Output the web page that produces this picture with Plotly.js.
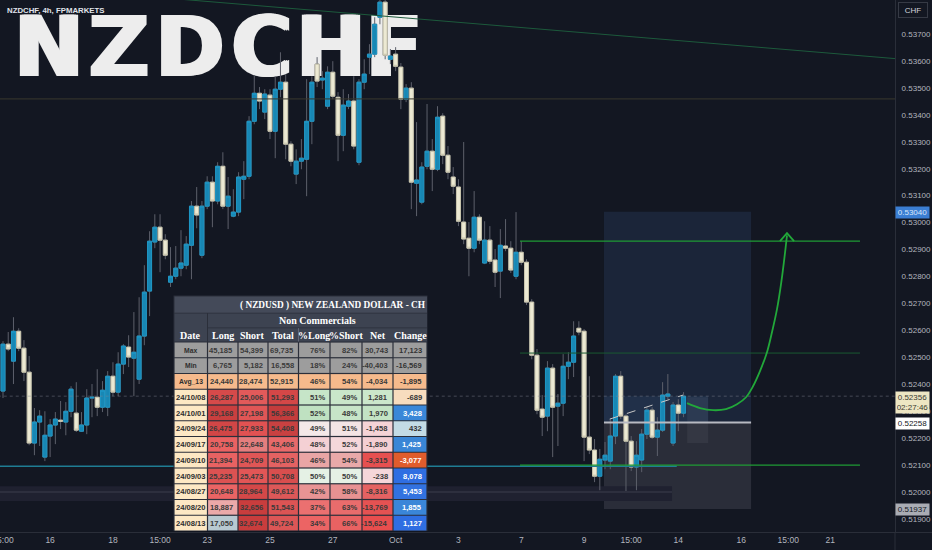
<!DOCTYPE html>
<html><head><meta charset="utf-8">
<script src="https://cdn.plot.ly/plotly-3.0.1.min.js"></script>
<style>html,body{margin:0;padding:0;background:#131722;}#chart{width:932px;height:550px;}</style>
</head><body><div id="chart"></div>
<script>
// ---------------- DATA ----------------
const candleOpen = [0.52375,0.52549,0.52486,0.52597,0.52534,0.52445,0.52182,0.52260,0.52130,0.52208,0.52249,0.52267,0.52260,0.52300,0.52293,0.52226,0.52249,0.52349,0.52352,0.52315,0.52315,0.52430,0.52371,0.52475,0.52538,0.52497,0.52419,0.52579,0.52746,0.52928,0.52983,0.52935,0.52779,0.52801,0.52831,0.52842,0.52916,0.53061,0.52879,0.53061,0.53150,0.53080,0.53209,0.53061,0.53024,0.53039,0.53161,0.53172,0.53376,0.53480,0.53410,0.53473,0.53339,0.53495,0.53521,0.53291,0.53180,0.53228,0.53235,0.53376,0.53588,0.53529,0.53432,0.53558,0.53465,0.53324,0.53432,0.53451,0.53224,0.53521,0.53614,0.53625,0.53762,0.53818,0.53606,0.53625,0.53577,0.53458,0.53499,0.53146,0.53076,0.53209,0.53265,0.53198,0.53395,0.53250,0.53169,0.53132,0.53002,0.52942,0.52905,0.53020,0.52850,0.52935,0.52861,0.52820,0.52913,0.52905,0.52801,0.52890,0.52853,0.52705,0.52508,0.52308,0.52282,0.52460,0.52319,0.52330,0.52467,0.52482,0.52608,0.52597,0.52204,0.52156,0.52059,0.52119,0.52115,0.52208,0.52430,0.52282,0.52189,0.52093,0.52119,0.52215,0.52304,0.52204,0.52230,0.52356,0.52182,0.52323,0.52293];
const candleHigh = [0.52560,0.52594,0.52649,0.52608,0.52564,0.52505,0.52312,0.52304,0.52300,0.52271,0.52297,0.52338,0.52334,0.52393,0.52408,0.52297,0.52382,0.52401,0.52456,0.52412,0.52449,0.52482,0.52519,0.52549,0.52582,0.52668,0.52723,0.52842,0.52968,0.53031,0.53031,0.52957,0.52909,0.52913,0.52972,0.52950,0.53080,0.53132,0.53080,0.53172,0.53172,0.53224,0.53261,0.53169,0.53124,0.53187,0.53228,0.53395,0.53547,0.53503,0.53495,0.53495,0.53543,0.53632,0.53551,0.53302,0.53272,0.53310,0.53532,0.53543,0.53614,0.53562,0.53580,0.53599,0.53484,0.53495,0.53477,0.53543,0.53532,0.53606,0.53662,0.53762,0.53829,0.53826,0.53644,0.53651,0.53592,0.53514,0.53521,0.53373,0.53224,0.53440,0.53310,0.53432,0.53406,0.53284,0.53206,0.53161,0.53299,0.53002,0.53117,0.53031,0.53005,0.52987,0.52902,0.52976,0.53013,0.52931,0.53039,0.52931,0.52864,0.52716,0.52531,0.52360,0.52486,0.52475,0.52364,0.52512,0.52519,0.52634,0.52634,0.52605,0.52430,0.52197,0.52160,0.52186,0.52271,0.52438,0.52449,0.52289,0.52208,0.52189,0.52234,0.52315,0.52315,0.52278,0.52408,0.52438,0.52334,0.52345,0.52371];
const candleLow = [0.52349,0.52523,0.52401,0.52523,0.52412,0.52174,0.52137,0.52171,0.52115,0.52130,0.52178,0.52234,0.52211,0.52278,0.52223,0.52223,0.52215,0.52278,0.52282,0.52297,0.52282,0.52356,0.52356,0.52438,0.52464,0.52356,0.52401,0.52545,0.52653,0.52905,0.52816,0.52864,0.52761,0.52790,0.52801,0.52827,0.52790,0.52979,0.52868,0.53050,0.52983,0.53068,0.53050,0.52976,0.53020,0.53024,0.53087,0.53161,0.53365,0.53421,0.53384,0.53310,0.53239,0.53465,0.53235,0.53209,0.53143,0.53198,0.53098,0.53291,0.53503,0.53495,0.53421,0.53458,0.53228,0.53265,0.53421,0.53272,0.53213,0.53495,0.53551,0.53614,0.53736,0.53606,0.53588,0.53562,0.53421,0.53447,0.53050,0.53024,0.53068,0.53198,0.53117,0.53191,0.53217,0.53161,0.53106,0.52987,0.52920,0.52801,0.52890,0.52920,0.52846,0.52846,0.52761,0.52720,0.52894,0.52813,0.52790,0.52842,0.52694,0.52493,0.52289,0.52208,0.52226,0.52130,0.52171,0.52282,0.52419,0.52427,0.52582,0.52115,0.52141,0.52037,0.52007,0.52085,0.52085,0.52178,0.52271,0.52000,0.52078,0.52007,0.52074,0.52197,0.52197,0.52134,0.52223,0.52345,0.52171,0.52226,0.52278];
const candleClose = [0.52549,0.52531,0.52597,0.52534,0.52445,0.52182,0.52260,0.52282,0.52211,0.52249,0.52271,0.52263,0.52300,0.52382,0.52230,0.52249,0.52349,0.52352,0.52315,0.52378,0.52430,0.52371,0.52475,0.52542,0.52501,0.52519,0.52579,0.52742,0.52931,0.52983,0.52935,0.52879,0.52801,0.52831,0.52850,0.52920,0.53061,0.53028,0.53061,0.53150,0.53080,0.53209,0.53061,0.53098,0.53039,0.53169,0.53172,0.53376,0.53480,0.53451,0.53477,0.53339,0.53495,0.53521,0.53291,0.53228,0.53228,0.53239,0.53376,0.53521,0.53525,0.53536,0.53558,0.53469,0.53324,0.53436,0.53451,0.53284,0.53521,0.53551,0.53625,0.53736,0.53818,0.53621,0.53618,0.53580,0.53458,0.53499,0.53150,0.53158,0.53206,0.53265,0.53198,0.53391,0.53250,0.53187,0.53135,0.53005,0.52939,0.52905,0.53020,0.52935,0.52935,0.52857,0.52816,0.52916,0.52905,0.52824,0.52890,0.52853,0.52705,0.52508,0.52304,0.52278,0.52460,0.52315,0.52330,0.52467,0.52482,0.52579,0.52594,0.52204,0.52156,0.52059,0.52122,0.52137,0.52208,0.52430,0.52282,0.52189,0.52093,0.52137,0.52215,0.52304,0.52204,0.52230,0.52360,0.52364,0.52323,0.52293,0.52356];

const timeTickPos  = [0, 9, 21, 30, 39, 51, 63, 75, 87, 99, 111, 120, 129, 141, 150, 158];
const timeTickText = ['15:00','16','18','15:00','23','25','27','Oct','3','7','9','15:00','14','16','15:00','21'];
const priceTicks = [0.519,0.520,0.521,0.522,0.523,0.524,0.525,0.526,0.527,0.528,0.529,0.530,0.531,0.532,0.533,0.534,0.535,0.536,0.537];

const chartTitle = 'NZDCHF, 4h, FPMARKETS';
const watermarkText = 'NZDCHF';
const currencyLabel = 'CHF';
const lastPrice = 0.52356;
const countdown = '02:27:46';
const targetPrice = 0.53040;
const entryPrice = 0.52258;
const stopPrice = 0.51937;

// drawings (index, price)
const trendX = [33.2, 172], trendY = [0.53830, 0.53606];
const resistanceLevel = 0.53459;
const supportLevel = 0.52096, supportEnd = 128.7;
const zoneStart = 98.76, zoneEnd = 163.7;
const zoneLevels = [0.52931, 0.52516, 0.52100];
const positionStart = 114.8, positionEnd = 142.9, progressEnd = 134.7;
const boxX = [130.7, 134.7], boxY = [0.52182, 0.52352];
const bandEnd = 127.8, bandY = [0.51967, 0.52022], bandMid = 0.52000;
const dashX = [115.9, 129.9], dashY = [0.52271, 0.52360];
const arrowX = [130.66,133.14,135.63,138.11,140.21,141.93,143.27,144.60,145.94,146.90,147.85,148.62,149.19,149.76];
const arrowY = [0.52330,0.52312,0.52304,0.52308,0.52326,0.52352,0.52393,0.52449,0.52519,0.52594,0.52679,0.52772,0.52857,0.52953];
const arrowHeadX = [148.42, 149.76, 151.10], arrowHeadY = [0.52931, 0.52961, 0.52931];

// COT table
const tableTitle = '( NZDUSD ) NEW ZEALAND DOLLAR - CH';
const tableGroup = 'Non Commercials';
const tableHeaders = ['Date','Long','Short','Total','%Long','%Short','Net','Change'];
const rowLabels = ['Max','Min','Avg_13','24/10/08','24/10/01','24/09/24','24/09/17','24/09/10','24/09/03','24/08/27','24/08/20','24/08/13'];
const longVals  = [45185, 6765, 24440, 26287, 29168, 26475, 20758, 21394, 25235, 20648, 18887, 17050];
const shortVals = [54399, 5182, 28474, 25006, 27198, 27933, 22648, 24709, 25473, 28964, 32656, 32674];
const totalVals = [69735, 16558, 52915, 51293, 56366, 54408, 43406, 46103, 50708, 49612, 51543, 49724];
const pctLong   = [76, 18, 46, 51, 52, 49, 48, 46, 50, 42, 37, 34];
const pctShort  = [82, 24, 54, 49, 48, 51, 52, 54, 50, 58, 63, 66];
const netVals   = [30743, -40403, -4034, 1281, 1970, -1458, -1890, -3315, -238, -8316, -13769, -15624];
const changeVals= [17123, -16569, -1895, -689, 3428, 432, 1425, -3077, 8078, 5453, 1855, 1127];

// table cell styles
const cellColors = [
 ['#9d9d9d','#9d9d9d','#9d9d9d','#9d9d9d','#9d9d9d','#9d9d9d','#9d9d9d','#9d9d9d'],
 ['#9d9d9d','#9d9d9d','#9d9d9d','#9d9d9d','#9d9d9d','#9d9d9d','#9d9d9d','#9d9d9d'],
 ['#f6ba8c','#f6ba8c','#f6ba8c','#f6ba8c','#f6ba8c','#f6ba8c','#f6ba8c','#f6ba8c'],
 ['#fde8c4','#d64a4a','#e25a5a','#d44747','#c6e5c8','#c9e6ca','#cbe7cb','#f7dcbe'],
 ['#fde8c4','#c93f3f','#e05656','#c43c3c','#bfe1c1','#c7e5c8','#c3e3c4','#3a87d8'],
 ['#fde8c4','#d24646','#e15252','#c94141','#f4e8e8','#f3e4e4','#f5d3d6','#c3dbe5'],
 ['#fde8c4','#ea6262','#e47e7e','#e86a6a','#f4d0d4','#f5d7da','#f4ced2','#3a86d6'],
 ['#fde8c4','#e86262','#e05656','#e46262','#e9a5a5','#e9a9a9','#e65050','#e05c2c'],
 ['#fde8c4','#dc5252','#e25656','#d84e4e','#e5f1e5','#e5f1e5','#f5d6d9','#2f6ee2'],
 ['#fde8c4','#ea6464','#d44848','#dd5858','#e89494','#e79292','#e56262','#3272e0'],
 ['#fde8c4','#eba9a9','#c93d3d','#dc5454','#eb7070','#e96c6c','#e55252','#3a86d8'],
 ['#fde8c4','#b8c9d1','#c93d3d','#dc5656','#ec6464','#e96262','#e84e4e','#2f6ee2']
];
const changeTextColors = ['#333','#333','#333','#333','#fff','#333','#fff','#fff','#fff','#fff','#fff','#fff'];

// ---------------- BUILD ----------------
const SANS = "'Liberation Sans',Arial,sans-serif";
const SERIF = "'Liberation Serif','DejaVu Serif',serif";
const PW = 895, PH = 532;
const PX = x => x / PW;
const PY = y => 1 - y / PH;

const xIdx = candleOpen.map((_, i) => i);
const bodyHigh = candleOpen.map((o, i) => Math.max(o, candleClose[i]));
const bodyLow = candleOpen.map((o, i) => Math.min(o, candleClose[i]));

const data = [];
// watermark letters (layout positions in pixels)
const letterCenters = [49, 119, 190, 262, 331, 394];
data.push({type:'scatter', mode:'text', x:letterCenters.map(PX), y:letterCenters.map(() => PY(55.5)),
  text:watermarkText.split(''),
  textposition:'middle center', cliponaxis:false, hoverinfo:'skip', showlegend:false,
  textfont:{family:"'DejaVu Sans',sans-serif", size:83, color:'#ededed', weight:'bold',
    shadow:'2px 0 0 #ededed, -2px 0 0 #ededed'}});
data.push({type:'candlestick', x:xIdx, open:candleOpen, high:candleHigh, low:candleLow, close:candleClose,
  xaxis:'x2', yaxis:'y2', whiskerwidth:0, hoverinfo:'skip', showlegend:false,
  increasing:{line:{color:'#5d606b', width:1}, fillcolor:'rgba(0,0,0,0)'},
  decreasing:{line:{color:'#5d606b', width:1}, fillcolor:'rgba(0,0,0,0)'}});
data.push({type:'candlestick', x:xIdx, open:candleOpen, high:bodyHigh, low:bodyLow, close:candleClose,
  xaxis:'x2', yaxis:'y2', whiskerwidth:0, hoverinfo:'skip', showlegend:false,
  increasing:{line:{color:'#1d97c6', width:1}, fillcolor:'#1887b4'},
  decreasing:{line:{color:'#c9c5ad', width:1}, fillcolor:'#ece9d3'}});

function lineTrace(xs, ys, color, width, dash) {
  return {type:'scatter', mode:'lines', x:xs, y:ys, xaxis:'x2', yaxis:'y2', cliponaxis:true,
    line:{color:color, width:width, dash:dash || 'solid'}, hoverinfo:'skip', showlegend:false};
}
data.push(lineTrace(trendX, trendY, '#1d5a3c', 1));
data.push(lineTrace([-1, 172], [resistanceLevel, resistanceLevel], '#3a392e', 1));
data.push(lineTrace([-1, 172], [lastPrice, lastPrice], 'rgba(130,134,146,0.45)', 1, 'dot'));
data.push(lineTrace([-1, bandEnd], [bandMid, bandMid], '#2d2f3e', 2));
data.push(lineTrace([-1, supportEnd], [supportLevel, supportLevel], '#1f7d93', 1.5));
data.push(lineTrace([zoneStart, zoneEnd], [zoneLevels[0], zoneLevels[0]], '#1f9b34', 1.2));
data.push(lineTrace([zoneStart, zoneEnd], [zoneLevels[1], zoneLevels[1]], '#1a5a32', 1));
data.push(lineTrace([zoneStart, zoneEnd], [zoneLevels[2], zoneLevels[2]], '#1f9b34', 1.2));
data.push(lineTrace([positionStart, positionEnd], [entryPrice, entryPrice], '#b8bac2', 2));
data.push(lineTrace(dashX, dashY, '#c8c8c8', 1, 'dash'));
data.push(Object.assign(lineTrace(arrowX, arrowY, '#22a83a', 1.8), {line:{color:'#22a83a', width:1.8, shape:'spline'}}));
data.push(lineTrace(arrowHeadX, arrowHeadY, '#22a83a', 1.8));

const shapes = [];
function dRect(x0, x1, y0, y1, fill) {
  shapes.push({type:'rect', xref:'x2', yref:'y2', x0, x1, y0, y1, fillcolor:fill, line:{width:0}, layer:'below'});
}
dRect(positionStart, positionEnd, entryPrice, targetPrice, '#1b2539');
dRect(positionStart, positionEnd, stopPrice, entryPrice, '#2a2d39');
dRect(positionStart, progressEnd, entryPrice, lastPrice, '#213049');
dRect(boxX[0], boxX[1], boxY[0], boxY[1], 'rgba(255,255,255,0.05)');
dRect(-1, bandEnd, bandY[0], bandY[1], '#1f2130');

function pRect(x0, y0, x1, y1, fill) {
  shapes.push({type:'rect', xref:'paper', yref:'paper', x0:PX(x0), x1:PX(x1), y0:PY(y1), y1:PY(y0),
    fillcolor:fill, line:{width:0}, layer:'above'});
}
function pLine(x0, y0, x1, y1, color) {
  shapes.push({type:'line', xref:'paper', yref:'paper', x0:PX(x0), x1:PX(x1), y0:PY(y0), y1:PY(y1),
    line:{color:color, width:1}, layer:'above'});
}
const annotations = [];
function pText(x, y, text, font, opts) {
  annotations.push(Object.assign({xref:'paper', yref:'paper', x:PX(x), y:PY(y), text:text, showarrow:false,
    xanchor:'center', yanchor:'middle', font:font}, opts || {}));
}

// axis frame pieces
pLine(895, 532, 895, 550, '#2a2e39');
pLine(895, 532.5, 932, 532.5, '#2a2e39');

// table
const colEdges = [174, 207.5, 238, 268, 298.5, 330, 362, 393, 427];
const rowTop = 342, rowH = 15.75;
pRect(173.5, 295.5, 427.5, 531, '#2b2f3a');
pRect(174.5, 296.5, 427, 312.8, '#444a59');
pRect(174.5, 313.5, 207, 341.5, '#3d4351');
pRect(208, 313.5, 427, 327.5, '#3d4351');
pRect(208, 328.2, 427, 341.5, '#3d4351');
pLine(298.5, 328.2, 298.5, 341.5, '#626877');
const headFont = {family:SERIF, size:10, color:'#ffffff', weight:'bold'};
pText(428, 305, tableTitle, Object.assign({}, headFont, {size:9.3}), {xanchor:'right'});
pText(317.5, 320.5, tableGroup, headFont);
tableHeaders.forEach((h, c) => {
  pText((colEdges[c] + colEdges[c+1]) / 2, 335, h, headFont);
});
const fmt = v => v.toLocaleString('en-US');
const columns = [longVals.map(fmt), shortVals.map(fmt), totalVals.map(fmt),
  pctLong.map(v => v + '%'), pctShort.map(v => v + '%'), netVals.map(fmt), changeVals.map(fmt)];
rowLabels.forEach((lab, r) => {
  const top = rowTop + r * rowH, bot = top + rowH;
  const cy = (top + bot) / 2 + 0.3;
  for (let c = 0; c < 8; c++) {
    pRect(colEdges[c] + 0.6, top + 0.6, colEdges[c+1] - 0.6, bot - 0.6, cellColors[r][c]);
  }
  const small = r < 3;
  pText((colEdges[0] + colEdges[1]) / 2, cy, lab,
    {family:SANS, size: small ? 6.8 : 7.6, color:'#2e2e2e', weight:'bold'});
  for (let c = 0; c < 7; c++) {
    const col = c === 6 ? changeTextColors[r] : '#3a3a3a';
    pText(colEdges[c+2] - 3, cy, columns[c][r], {family:SANS, size:7.6, color:col, weight:'bold'}, {xanchor:'right'});
  }
});

// chart title
pText(5, 10, chartTitle, {family:SANS, size:7.8, color:'#e0e3ea', weight:'bold'}, {xanchor:'left'});

// right axis labels
const axFont = c => ({family:SANS, size:8, color:c});
pText(913, 10, currencyLabel, axFont('#d1d4dc'), {width:26, height:12, bordercolor:'#363a45', borderwidth:1, borderpad:1, bgcolor:'#131722'});
function priceLabel(yc, text, bg, fg, h) {
  pText(912, yc, text, axFont(fg), {width:31, height:h || 9, bgcolor:bg, borderpad:1, align:'center'});
}
priceLabel(212, targetPrice.toFixed(5), '#3b7ed3', '#d8e6fa');
priceLabel(402.5, lastPrice.toFixed(5) + '<br>' + countdown, '#ede6c3', '#3b3a30', 19);
priceLabel(423.5, entryPrice.toFixed(5), '#ffffff', '#131722');
priceLabel(509, stopPrice.toFixed(5), '#a9acb4', '#131722');

const layout = {
  width:932, height:550, margin:{l:0, r:37, t:0, b:18, pad:0},
  paper_bgcolor:'#131722', plot_bgcolor:'#131722',
  showlegend:false, hovermode:false, dragmode:false,
  boxgap:0.24, boxgroupgap:0, boxmode:'overlay',
  xaxis:{range:[0,1], visible:false, fixedrange:true},
  yaxis:{range:[0,1], visible:false, fixedrange:true},
  xaxis2:{overlaying:'x', anchor:'y2', side:'bottom', range:[-0.573, 170.39], tickvals:timeTickPos, ticktext:timeTickText,
    showgrid:false, zeroline:false, showline:true, linecolor:'#2a2e39', linewidth:1, ticks:'',
    ticklabeloverflow:'allow', tickfont:{family:SANS, size:8.5, color:'#b2b5be'}, rangeslider:{visible:false}, fixedrange:true},
  yaxis2:{overlaying:'y', anchor:'x2', side:'right', range:[0.51852, 0.53826], tickvals:priceTicks, tickformat:'.5f',
    showgrid:false, zeroline:false, showline:true, linecolor:'#2a2e39', linewidth:1, ticks:'', ticklabelstandoff:4,
    ticklabeloverflow:'allow', tickfont:{family:SANS, size:8, color:'#b2b5be'}, fixedrange:true},
  shapes:shapes, annotations:annotations
};
Plotly.newPlot('chart', data, layout, {displayModeBar:false, staticPlot:true});
</script>
</body></html>
